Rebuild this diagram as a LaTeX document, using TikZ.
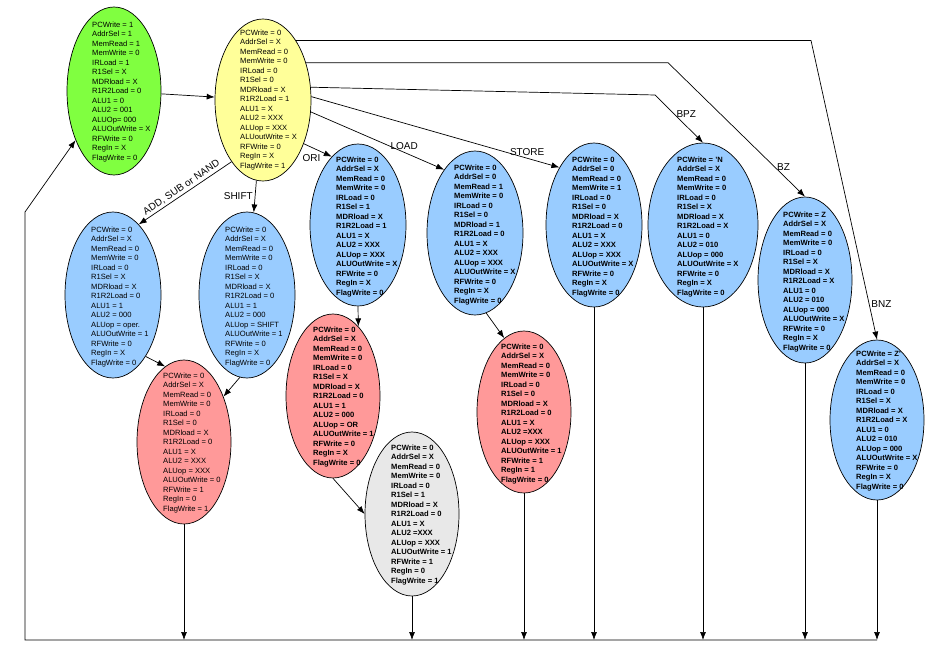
\documentclass[tikz,border=0pt]{standalone}
\usepackage{fontspec}
\setmainfont{Liberation Sans}
\usetikzlibrary{shapes.geometric,arrows.meta}
\definecolor{fetchgreen}{RGB}{128,255,64}
\definecolor{decodeyellow}{RGB}{255,255,153}
\definecolor{stateblue}{RGB}{153,204,255}
\definecolor{statered}{RGB}{255,153,153}
\definecolor{stategray}{RGB}{232,232,232}
\tikzset{
	state/.style={ellipse, draw=black, line width=0.7pt, inner sep=0pt,
		minimum width=96pt, minimum height=164pt},
	sig/.style={anchor=west, align=left, inner sep=0pt,
		font=\fontsize{7.6}{9.5}\selectfont},
	sigb/.style={sig, font=\fontsize{7.6}{9.5}\selectfont\bfseries},
	edge/.style={-{Latex[length=8pt,width=6pt]}, line width=0.7pt},
	lbl/.style={font=\fontsize{10}{12}\selectfont, inner sep=2pt},
}

\begin{document}
\begin{tikzpicture}[x=1pt, y=-1pt]
			\useasboundingbox (0,0) rectangle (950,661);
			% fetch and decode
			\node[state, fill=fetchgreen, minimum width=94pt, minimum height=168pt] (fetch) at (114,91) {};
			\node[sig] (fetch-t) at ([xshift=-22pt,yshift=-1pt]fetch.center)
				{PCWrite = 1\\AddrSel = 1\\MemRead = 1\\MemWrite = 0\\IRLoad = 1\\R1Sel = X\\MDRload = X\\R1R2Load = 0\\ALU1 = 0\\ALU2 = 001\\ALUOp= 000\\ALUOutWrite = X\\RFWrite = 0\\RegIn = X\\FlagWrite = 0};
			\node[state, fill=decodeyellow, minimum height=162pt] (decode) at (263,100) {};
			\node[sig] (decode-t) at ([xshift=-23pt]decode.center)
				{PCWrite = 0\\AddrSel = X\\MemRead = 0\\MemWrite = 0\\IRLoad = 0\\R1Sel = 0\\MDRload = X\\R1R2Load = 1\\ALU1 = X\\ALU2 = XXX\\ALUop = XXX\\ALUoutWrite = X\\RFWrite = 0\\RegIn = X\\FlagWrite = 1};
			% register ops
			\node[state, fill=stateblue, minimum height=166pt] (rtype) at (113,295) {};
			\node[sig] (rtype-t) at ([xshift=-22pt,yshift=-2pt]rtype.center)
				{PCWrite = 0\\AddrSel = X\\MemRead = 0\\MemWrite = 0\\IRLoad = 0\\R1Sel = X\\MDRload = X\\R1R2Load = 0\\ALU1 = 1\\ALU2 = 000\\ALUop = oper.\\ALUOutWrite = 1\\RFWrite = 0\\RegIn = X\\FlagWrite = 0};
			\node[state, fill=stateblue, minimum height=166pt] (shifter) at (247,295) {};
			\node[sig] (shifter-t) at ([xshift=-22pt,yshift=-2pt]shifter.center)
				{PCWrite = 0\\AddrSel = X\\MemRead = 0\\MemWrite = 0\\IRLoad = 0\\R1Sel = X\\MDRload = X\\R1R2Load = 0\\ALU1 = 1\\ALU2 = 000\\ALUop = SHIFT\\ALUOutWrite = 1\\RFWrite = 0\\RegIn = X\\FlagWrite = 0};
			\node[state, fill=statered, minimum width=94pt] (wb) at (184,442) {};
			\node[sig] (wb-t) at ([xshift=-21pt,yshift=-1pt]wb.center)
				{PCWrite = 0\\AddrSel = X\\MemRead = 0\\MemWrite = 0\\IRLoad = 0\\R1Sel = 0\\MDRload = X\\R1R2Load = 0\\ALU1 = X\\ALU2 = XXX\\ALUop = XXX\\ALUOutWrite = 0\\RFWrite = 1\\RegIn = 0\\FlagWrite = 1};
			% ori
			\node[state, fill=stateblue, minimum height=162pt] (ori1) at (358,225) {};
			\node[sigb] (ori1-t) at ([xshift=-22pt,yshift=-2pt]ori1.center)
				{PCWrite = 0\\AddrSel = X\\MemRead = 0\\MemWrite = 0\\IRLoad = 0\\R1Sel = 1\\MDRload = X\\R1R2Load = 1\\ALU1 = X\\ALU2 = XXX\\ALUop = XXX\\ALUOutWrite = X\\RFWrite = 0\\RegIn = X\\FlagWrite = 0};
			\node[state, fill=statered, minimum width=94pt] (ori2) at (333,396) {};
			\node[sigb] (ori2-t) at ([xshift=-20pt,yshift=-1pt]ori2.center)
				{PCWrite = 0\\AddrSel = X\\MemRead = 0\\MemWrite = 0\\IRLoad = 0\\R1Sel = X\\MDRload = X\\R1R2Load = 0\\ALU1 = 1\\ALU2 = 000\\ALUop = OR\\ALUOutWrite = 1\\RFWrite = 0\\RegIn = X\\FlagWrite = 0};
			\node[state, fill=stategray, minimum width=94pt] (ori3) at (412,514) {};
			\node[sigb] (ori3-t) at ([xshift=-21pt,yshift=-1pt]ori3.center)
				{PCWrite = 0\\AddrSel = X\\MemRead = 0\\MemWrite = 0\\IRLoad = 0\\R1Sel = 1\\MDRload = X\\R1R2Load = 0\\ALU1 = X\\ALU2 =XXX\\ALUop = XXX\\ALUOutWrite = 1\\RFWrite = 1\\RegIn = 0\\FlagWrite = 1};
			% load / store
			\node[state, fill=stateblue] (load1) at (475,233) {};
			\node[sigb] (load1-t) at ([xshift=-21pt,yshift=-2pt]load1.center)
				{PCWrite = 0\\AddrSel = 0\\MemRead = 1\\MemWrite = 0\\IRLoad = 0\\R1Sel = 0\\MDRload = 1\\R1R2Load = 0\\ALU1 = X\\ALU2 = XXX\\ALUop = XXX\\ALUOutWrite = X\\RFWrite = 0\\RegIn = X\\FlagWrite = 0};
			\node[state, fill=statered, minimum width=94pt, minimum height=162pt] (load2) at (524,412) {};
			\node[sigb] (load2-t) at ([xshift=-23pt,yshift=-2pt]load2.center)
				{PCWrite = 0\\AddrSel = X\\MemRead = 0\\MemWrite = 0\\IRLoad = 0\\R1Sel = 0\\MDRload = X\\R1R2Load = 0\\ALU1 = X\\ALU2 =XXX\\ALUop = XXX\\ALUOutWrite = 1\\RFWrite = 1\\RegIn = 1\\FlagWrite = 0};
			\node[state, fill=stateblue] (store) at (594,225) {};
			\node[sigb] (store-t) at ([xshift=-22pt,yshift=-2pt]store.center)
				{PCWrite = 0\\AddrSel = 0\\MemRead = 0\\MemWrite = 1\\IRLoad = 0\\R1Sel = 0\\MDRload = X\\R1R2Load = 0\\ALU1 = X\\ALU2 = XXX\\ALUop = XXX\\ALUOutWrite = X\\RFWrite = 0\\RegIn = X\\FlagWrite = 0};
			% branches
			\node[state, fill=stateblue, minimum width=110pt] (bpz) at (703,225) {};
			\node[sigb] (bpz-t) at ([xshift=-26pt,yshift=-2pt]bpz.center)
				{PCWrite = 'N\\AddrSel = X\\MemRead = 0\\MemWrite = 0\\IRLoad = 0\\R1Sel = X\\MDRload = X\\R1R2Load = X\\ALU1 = 0\\ALU2 = 010\\ALUop = 000\\ALUOutWrite = X\\RFWrite = 0\\RegIn = X\\FlagWrite = 0};
			\node[state, fill=stateblue, minimum width=94pt, minimum height=166pt] (bz) at (805,280) {};
			\node[sigb] (bz-t) at ([xshift=-22pt,yshift=-2pt]bz.center)
				{PCWrite = Z\\AddrSel = X\\MemRead = 0\\MemWrite = 0\\IRLoad = 0\\R1Sel = X\\MDRload = X\\R1R2Load = X\\ALU1 = 0\\ALU2 = 010\\ALUop = 000\\ALUOutWrite = X\\RFWrite = 0\\RegIn = X\\FlagWrite = 0};
			\node[state, fill=stateblue, minimum width=94pt, minimum height=160pt] (bnz) at (877,420) {};
			\node[sigb] (bnz-t) at ([xshift=-21pt,yshift=-1pt]bnz.center)
				{PCWrite = Z'\\AddrSel = X\\MemRead = 0\\MemWrite = 0\\IRLoad = 0\\R1Sel = X\\MDRload = X\\R1R2Load = X\\ALU1 = 0\\ALU2 = 010\\ALUop = 000\\ALUOutWrite = X\\RFWrite = 0\\RegIn = X\\FlagWrite = 0};

			% corners
			\coordinate (bpz-k) at (655,95);
			\coordinate (bz-k) at (668,0);
			\coordinate (bnz-k) at (811,0);
			\coordinate (base) at (25,640);
			\coordinate (turn) at (25,212);

			% transitions
			\draw[edge] (fetch) -- (decode);
			\draw[edge] (decode.243) -- node[lbl, above, sloped] {ADD, SUB or NAND} (rtype.70);
			\draw[edge] (decode) -- node[lbl, left] {SHIFT} (shifter);
			\draw[edge] (decode.313) -- node[lbl, pos=0.68, anchor=north east] {ORI} (ori1.111);
			\draw[edge] (decode.346) -- node[lbl, pos=0.7, above] {LOAD} (load1.116);
			\draw[edge] (decode.4) -- node[lbl, pos=0.87, above] {STORE} (store.121);
			\draw[edge] (decode.15) -- (bpz-k) -- node[lbl, pos=0.4, right] {BPZ} (bpz.north);
			\draw[edge] (decode.41) -- (decode.41 -| bz-k) -- node[lbl, pos=0.78, right] {BZ} (bz.north);
			\draw[edge] (decode.61) -- (decode.61 -| bnz-k) -- node[lbl, pos=0.88, right] {BNZ} (bnz.north);
			\draw[edge] (rtype.298) -- (wb.104);
			\draw[edge] (shifter.265) -- (wb.49);
			\draw[edge] (ori1.south) -- (ori2.70);
			\draw[edge] (ori2.south) -- (ori3.west);
			\draw[edge] (load1.278) -- (load2.105);

			% back to fetch
			\foreach \s in {wb,ori3,load2,store,bpz,bz,bnz}
				\draw[edge] (\s.south) -- (\s.south |- base);
			\draw[edge] (bnz.south |- base) -- (base) -- (turn) -- (fetch.232);
		\end{tikzpicture}
\end{document}
